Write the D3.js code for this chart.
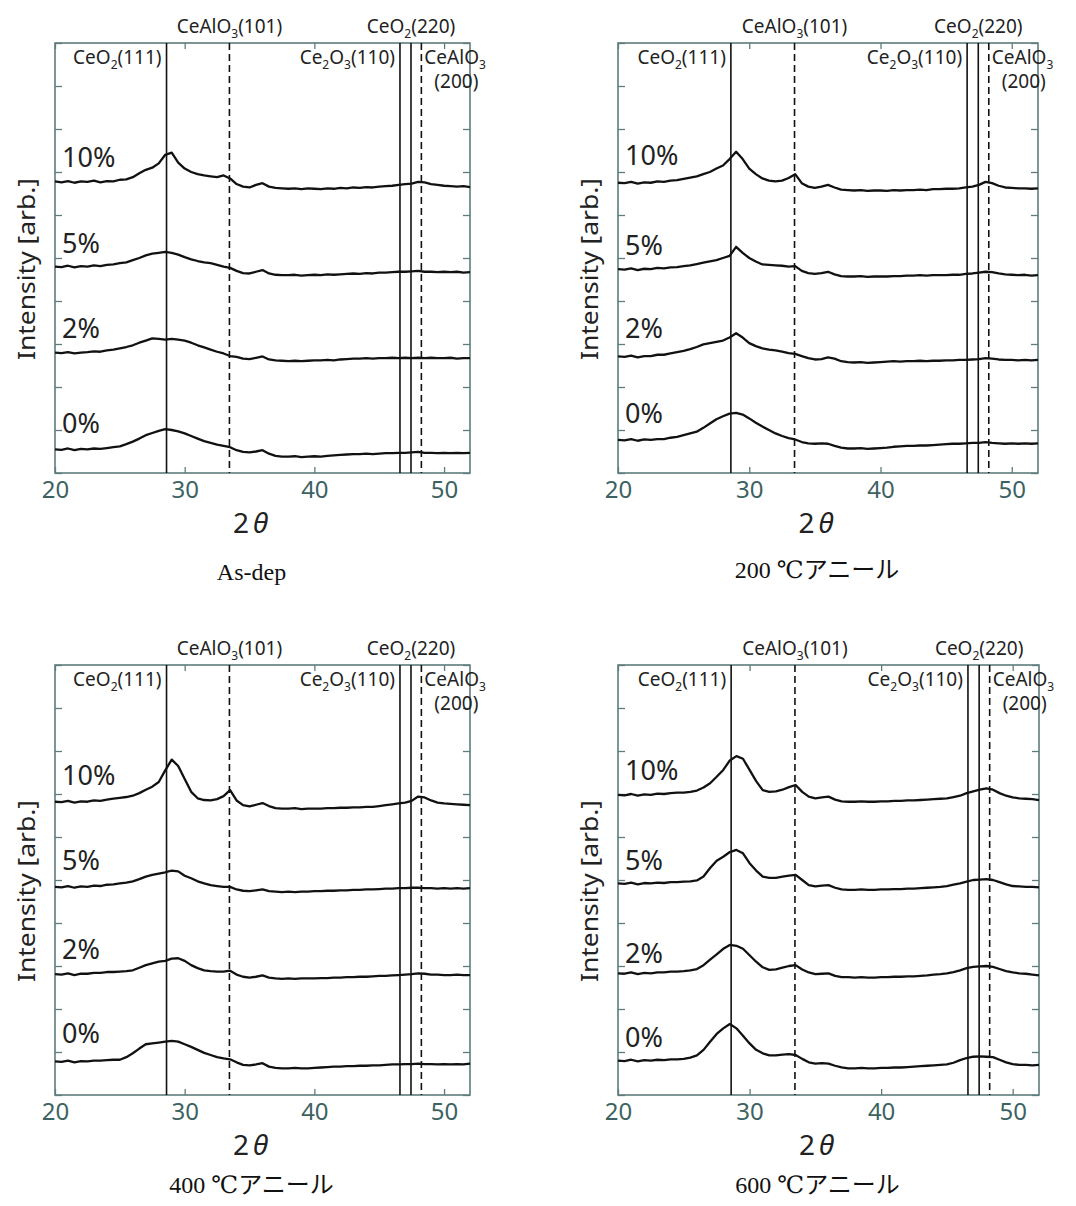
<!DOCTYPE html>
<html>
<head>
<meta charset="utf-8">
<script src="https://cdn.jsdelivr.net/npm/d3@7"></script>
<style>
  body { margin: 0; background: #fff; }
  svg { display: block; }
</style>
</head>
<body>
<svg id="xrd_svg" width="1076" height="1206"></svg>
<script>
// 2theta sampling (deg)
const twoTheta = [20,20.5,21,21.5,22,22.5,23,23.5,24,24.5,25,25.5,26,26.5,27,27.5,28,28.5,29,29.5,
  30,30.5,31,31.5,32,32.5,33,33.5,34,34.5,35,35.5,36,36.5,37,37.5,38,38.5,39,39.5,
  40,40.5,41,41.5,42,42.5,43,43.5,44,44.5,45,45.5,46,46.5,47,47.5,48,48.5,49,49.5,
  50,50.5,51,51.5,52]

// As-dep
const asDep10 = [6.78,6.76,6.79,6.75,6.78,6.77,6.80,6.76,6.79,6.78, 6.82,6.83,6.88,6.97,7.05,7.10,7.20,7.40,7.45,7.22,
  7.08,7.00,6.95,6.92,6.90,6.88,6.92,6.85,6.72,6.66, 6.64,6.70,6.74,6.66,6.63,6.62,6.61,6.62,6.60,6.62,
  6.61,6.60,6.62,6.61,6.63,6.62,6.64,6.63,6.65,6.64, 6.66,6.67,6.68,6.70,6.72,6.73,6.77,6.76,6.72,6.70, 6.68,6.67,6.66,6.67,6.65]
const asDep5 = [4.80,4.79,4.82,4.78,4.81,4.80,4.83,4.81,4.84,4.85, 4.88,4.90,4.95,5.00,5.06,5.10,5.12,5.14,5.12,5.08,
  5.02,4.97,4.93,4.90,4.88,4.84,4.80,4.77,4.70,4.65, 4.64,4.68,4.72,4.64,4.61,4.60,4.60,4.61,4.59,4.60,
  4.61,4.60,4.62,4.61,4.62,4.63,4.64,4.63,4.65,4.64, 4.66,4.66,4.67,4.68,4.68,4.69,4.70,4.68,4.68,4.67, 4.68,4.67,4.68,4.66,4.67]
const asDep2 = [2.80,2.79,2.81,2.78,2.80,2.81,2.83,2.82,2.85,2.87, 2.90,2.93,2.97,3.03,3.08,3.13,3.12,3.10,3.12,3.10,
  3.08,3.03,2.97,2.92,2.87,2.82,2.78,2.72,2.70,2.66, 2.65,2.68,2.71,2.64,2.62,2.61,2.60,2.61,2.60,2.61,
  2.62,2.62,2.63,2.62,2.64,2.65,2.66,2.66,2.67,2.66, 2.67,2.67,2.68,2.67,2.68,2.67,2.68,2.67,2.68,2.67, 2.67,2.68,2.66,2.67,2.67]
const asDep0 = [0.55,0.54,0.57,0.53,0.56,0.55,0.57,0.56,0.58,0.60, 0.62,0.67,0.73,0.80,0.88,0.93,0.98,1.02,1.00,0.97,
  0.92,0.86,0.80,0.74,0.70,0.66,0.63,0.60,0.53,0.49, 0.48,0.50,0.53,0.45,0.40,0.38,0.38,0.39,0.37,0.38,
  0.39,0.38,0.40,0.41,0.42,0.43,0.44,0.44,0.45,0.44, 0.45,0.46,0.46,0.47,0.47,0.48,0.49,0.47,0.47,0.46, 0.47,0.46,0.47,0.46,0.47]

// 200 C anneal
const ann200_10 = [6.75,6.74,6.77,6.73,6.76,6.75,6.78,6.77,6.80,6.81, 6.84,6.87,6.90,6.95,7.00,7.08,7.15,7.30,7.47,7.30,
  7.08,6.95,6.85,6.80,6.78,6.80,6.86,6.95,6.74,6.66, 6.63,6.66,6.70,6.64,6.59,6.58,6.57,6.58,6.56,6.57,
  6.57,6.56,6.58,6.57,6.58,6.58,6.59,6.58,6.60,6.60, 6.61,6.61,6.62,6.64,6.66,6.70,6.77,6.74,6.68,6.64, 6.63,6.62,6.62,6.61,6.62]
const ann200_5 = [4.74,4.73,4.76,4.72,4.75,4.74,4.77,4.76,4.78,4.79, 4.81,4.83,4.86,4.89,4.92,4.95,5.00,5.05,5.26,5.12,
  5.00,4.92,4.85,4.84,4.83,4.82,4.80,4.81,4.70,4.65, 4.63,4.65,4.68,4.62,4.58,4.57,4.57,4.58,4.56,4.57,
  4.57,4.57,4.58,4.58,4.59,4.59,4.60,4.59,4.60,4.60, 4.60,4.61,4.61,4.63,4.64,4.66,4.68,4.67,4.64,4.62, 4.61,4.60,4.61,4.59,4.60]
const ann200_2 = [2.71,2.70,2.73,2.69,2.72,2.72,2.75,2.75,2.78,2.81, 2.84,2.88,2.93,2.99,3.02,3.05,3.08,3.15,3.25,3.15,
  3.02,2.95,2.90,2.87,2.85,2.82,2.79,2.77,2.72,2.67, 2.64,2.65,2.69,2.66,2.60,2.58,2.57,2.58,2.56,2.57,
  2.58,2.59,2.60,2.59,2.60,2.60,2.61,2.60,2.61,2.61, 2.62,2.62,2.63,2.63,2.64,2.65,2.67,2.66,2.64,2.63, 2.63,2.62,2.63,2.62,2.63]
const ann200_0 = [0.77,0.76,0.79,0.75,0.78,0.77,0.79,0.79,0.82,0.84, 0.88,0.92,0.96,1.05,1.15,1.25,1.32,1.38,1.40,1.36,
  1.27,1.17,1.08,1.00,0.92,0.86,0.81,0.78,0.72,0.69, 0.68,0.69,0.68,0.63,0.59,0.57,0.57,0.58,0.56,0.57,
  0.58,0.59,0.61,0.62,0.63,0.63,0.64,0.64,0.65,0.66, 0.67,0.68,0.68,0.69,0.70,0.70,0.72,0.70,0.69,0.68, 0.69,0.68,0.69,0.68,0.69]

// 400 C anneal
const ann400_10 = [6.82,6.81,6.84,6.80,6.83,6.82,6.85,6.84,6.87,6.89, 6.91,6.93,6.96,7.02,7.10,7.17,7.28,7.55,7.80,7.65,
  7.35,7.05,6.90,6.86,6.85,6.88,6.95,7.09,6.85,6.74, 6.71,6.75,6.79,6.72,6.67,6.66,6.66,6.67,6.65,6.66,
  6.66,6.66,6.67,6.67,6.68,6.68,6.69,6.69,6.70,6.70, 6.72,6.74,6.76,6.78,6.80,6.84,6.94,6.92,6.85,6.80, 6.78,6.77,6.76,6.75,6.74]
const ann400_5 = [4.84,4.83,4.86,4.82,4.85,4.84,4.87,4.86,4.89,4.90, 4.92,4.94,4.97,5.02,5.08,5.12,5.15,5.18,5.22,5.20,
  5.10,5.04,4.97,4.92,4.88,4.86,4.84,4.84,4.78,4.75, 4.74,4.76,4.78,4.74,4.73,4.72,4.73,4.72,4.73,4.73,
  4.74,4.74,4.75,4.75,4.76,4.76,4.77,4.77,4.78,4.78, 4.79,4.80,4.80,4.81,4.81,4.82,4.82,4.81,4.81,4.80, 4.81,4.80,4.81,4.80,4.81]
const ann400_2 = [2.81,2.80,2.83,2.79,2.82,2.82,2.84,2.84,2.86,2.86, 2.87,2.88,2.90,2.96,3.02,3.06,3.10,3.12,3.17,3.18,
  3.12,3.02,2.95,2.90,2.88,2.87,2.87,2.89,2.80,2.75, 2.73,2.75,2.78,2.73,2.71,2.70,2.71,2.70,2.71,2.71,
  2.71,2.72,2.72,2.73,2.73,2.74,2.74,2.75,2.75,2.76, 2.77,2.77,2.78,2.79,2.80,2.81,2.83,2.82,2.80,2.80, 2.79,2.79,2.80,2.79,2.79]
const ann400_0 = [0.78,0.77,0.80,0.76,0.79,0.78,0.80,0.80,0.81,0.82, 0.82,0.88,0.97,1.08,1.18,1.20,1.22,1.24,1.26,1.24,
  1.18,1.12,1.05,0.98,0.93,0.88,0.85,0.83,0.76,0.70, 0.69,0.71,0.74,0.66,0.63,0.62,0.62,0.63,0.62,0.62,
  0.63,0.64,0.65,0.66,0.66,0.67,0.67,0.68,0.68,0.69, 0.69,0.70,0.71,0.71,0.72,0.72,0.73,0.72,0.72,0.71, 0.72,0.71,0.72,0.71,0.73]

// 600 C anneal
const ann600_10 = [6.98,6.97,7.00,6.96,6.99,6.98,7.01,7.00,7.02,7.03, 7.03,7.05,7.08,7.15,7.25,7.40,7.56,7.78,7.88,7.82,
  7.56,7.30,7.09,7.05,7.06,7.10,7.16,7.21,7.05,6.94, 6.90,6.92,6.94,6.87,6.83,6.82,6.82,6.83,6.82,6.82,
  6.83,6.83,6.84,6.84,6.85,6.85,6.86,6.87,6.88,6.89, 6.90,6.93,6.96,7.02,7.06,7.10,7.13,7.10,7.02,6.96, 6.92,6.90,6.89,6.88,6.86]
const ann600_5 = [4.92,4.91,4.94,4.90,4.93,4.92,4.94,4.93,4.95,4.95, 4.96,4.97,4.99,5.08,5.28,5.45,5.54,5.65,5.70,5.62,
  5.39,5.22,5.08,5.05,5.05,5.08,5.10,5.12,5.00,4.88, 4.85,4.87,4.88,4.82,4.78,4.77,4.77,4.78,4.77,4.77,
  4.78,4.78,4.79,4.79,4.80,4.80,4.81,4.82,4.83,4.84, 4.86,4.89,4.92,4.96,5.00,5.01,5.02,5.00,4.95,4.90, 4.86,4.85,4.84,4.84,4.83]
const ann600_2 = [2.83,2.82,2.85,2.81,2.84,2.83,2.85,2.85,2.87,2.87, 2.88,2.90,2.93,3.02,3.15,3.27,3.40,3.49,3.47,3.40,
  3.25,3.10,2.97,2.91,2.92,2.96,3.00,3.02,2.92,2.85, 2.81,2.82,2.83,2.77,2.74,2.74,2.73,2.74,2.73,2.73,
  2.74,2.74,2.75,2.75,2.76,2.76,2.77,2.78,2.80,2.81, 2.83,2.86,2.90,2.95,2.98,2.99,3.00,2.98,2.93,2.88, 2.85,2.83,2.82,2.80,2.78]
const ann600_0 = [0.80,0.79,0.82,0.78,0.81,0.80,0.82,0.81,0.83,0.83, 0.84,0.87,0.92,1.05,1.24,1.42,1.55,1.65,1.55,1.38,
  1.20,1.05,0.97,0.92,0.92,0.94,0.95,0.93,0.84,0.76, 0.73,0.74,0.73,0.68,0.64,0.62,0.62,0.63,0.62,0.62,
  0.63,0.63,0.64,0.64,0.65,0.66,0.67,0.68,0.69,0.70, 0.71,0.75,0.81,0.86,0.89,0.90,0.89,0.88,0.82,0.76, 0.72,0.70,0.70,0.69,0.70]

const sampleNames = ['10%', '5%', '2%', '0%']
const captions = ['As-dep', '200 \u2103アニール', '400 \u2103アニール', '600 \u2103アニール']
const seriesByPanel = [
  [asDep10, asDep5, asDep2, asDep0],
  [ann200_10, ann200_5, ann200_2, ann200_0],
  [ann400_10, ann400_5, ann400_2, ann400_0],
  [ann600_10, ann600_5, ann600_2, ann600_0]
]
// where the 10/5/2/0% tags sit (y units)
const tagLevels = [
  [7.12, 5.12, 3.14, 0.93],
  [7.16, 5.07, 3.14, 1.16],
  [7.21, 5.23, 3.16, 1.21],
  [7.33, 5.23, 3.08, 1.12]
]
// reference peak positions (2theta)
const peakPos = [28.6, 33.45, 46.6, 47.45, 48.25]
const peakDashed = [false, true, false, false, true]
const xTicks = [20, 30, 40, 50]

// layout
const boxes = [
  {left: 55, top: 43, w: 415, h: 430, capY: 580},
  {left: 618, top: 43, w: 420, h: 430, capY: 578},
  {left: 55, top: 665, w: 415, h: 430, capY: 1193},
  {left: 618, top: 665, w: 421, h: 430, capY: 1193}
]
const frameColor = '#5e7c7c'
const tickTextColor = '#3d6262'
const sans = '"Noto Sans", "Open Sans", sans-serif'

const svg = d3.select('#xrd_svg')

// chemical formula with _n subscripts
function formula(g, str, x, y, anchor) {
  const t = g.append('text')
    .attr('x', x).attr('y', y)
    .attr('text-anchor', anchor)
    .attr('font-family', sans)
    .attr('font-size', 19)
    .attr('fill', '#222')
  const parts = str.split(/_(\d)/)
  parts.forEach((p, i) => {
    if (p === '') return
    if (i % 2 === 1) {
      t.append('tspan').attr('font-size', 12).attr('dy', 5).text(p)
    } else {
      const s = t.append('tspan').text(p)
      if (i > 0) s.attr('dy', -5)
    }
  })
  return t
}

boxes.forEach((b, pi) => {
  const g = svg.append('g').attr('transform', `translate(${b.left},${b.top})`)
  const x = d3.scaleLinear().domain([20, 52]).range([0, b.w])
  const y = d3.scaleLinear().domain([0, 10]).range([b.h, 0])

  // axes with inward ticks
  const bottom = g.append('g').attr('transform', `translate(0,${b.h})`)
    .call(d3.axisBottom(x).tickValues(xTicks).tickSize(-6).tickPadding(8))
  bottom.selectAll('text').attr('font-family', sans).attr('font-size', 24).attr('fill', tickTextColor)
  g.append('g').call(d3.axisTop(x).tickValues(xTicks).tickSize(-6).tickFormat(''))
  g.append('g').call(d3.axisLeft(y).ticks(10).tickSize(-7).tickFormat(''))
  g.append('g').attr('transform', `translate(${b.w},0)`)
    .call(d3.axisRight(y).ticks(10).tickSize(-7).tickFormat(''))
  g.selectAll('.domain').remove()
  g.selectAll('.tick line').attr('stroke', frameColor).attr('stroke-width', 1.3)

  g.append('rect')
    .attr('width', b.w).attr('height', b.h)
    .attr('fill', 'none').attr('stroke', frameColor).attr('stroke-width', 1.6)

  // reference lines
  peakPos.forEach((p, i) => {
    g.append('line')
      .attr('x1', x(p)).attr('x2', x(p))
      .attr('y1', 0).attr('y2', b.h)
      .attr('stroke', '#111').attr('stroke-width', 1.6)
      .attr('stroke-dasharray', peakDashed[i] ? '7,4' : null)
  })

  // patterns
  const line = d3.line()
    .x((d, i) => x(twoTheta[i]))
    .y(d => y(d))
  seriesByPanel[pi].forEach(s => {
    g.append('path')
      .attr('d', line(s))
      .attr('fill', 'none')
      .attr('stroke', '#111')
      .attr('stroke-width', 2.3)
      .attr('stroke-linejoin', 'round')
  })

  sampleNames.forEach((n, i) => {
    g.append('text')
      .attr('x', 7).attr('y', y(tagLevels[pi][i]))
      .attr('font-family', sans).attr('font-size', 27).attr('fill', '#222')
      .text(n)
  })

  // peak labels
  formula(g, 'CeO_2(111)', x(peakPos[0]) - 5, 21, 'end')
  formula(g, 'CeAlO_3(101)', x(peakPos[1]), -10, 'middle')
  formula(g, 'Ce_2O_3(110)', x(peakPos[2]) - 5, 21, 'end')
  formula(g, 'CeO_2(220)', x(peakPos[3]), -10, 'middle')
  formula(g, 'CeAlO_3', x(peakPos[4]) + 3, 21, 'start')
  formula(g, '(200)', x(peakPos[4]) + 13, 45, 'start')

  // axis titles
  g.append('text')
    .attr('transform', `translate(-20,${b.h / 2 + 11}) rotate(-90)`)
    .attr('text-anchor', 'middle')
    .attr('font-family', sans).attr('font-size', 23).attr('fill', '#222')
    .attr('textLength', 182).attr('lengthAdjust', 'spacingAndGlyphs')
    .text('Intensity [arb.]')

  const xt = g.append('text')
    .attr('x', b.w / 2 - 12).attr('y', b.h + 60)
    .attr('text-anchor', 'middle')
    .attr('font-family', sans).attr('font-size', 28).attr('fill', '#222')
  xt.append('tspan').text('2')
  xt.append('tspan').attr('font-style', 'italic').attr('dx', 4).text('θ')

  svg.append('text')
    .attr('x', b.left + b.w / 2 - 11).attr('y', b.capY)
    .attr('text-anchor', 'middle')
    .attr('font-family', '"Liberation Serif", "DejaVu Serif", "Noto Sans CJK JP", serif')
    .attr('font-size', 24).attr('fill', '#111')
    .text(captions[pi])
})
</script>
</body>
</html>
